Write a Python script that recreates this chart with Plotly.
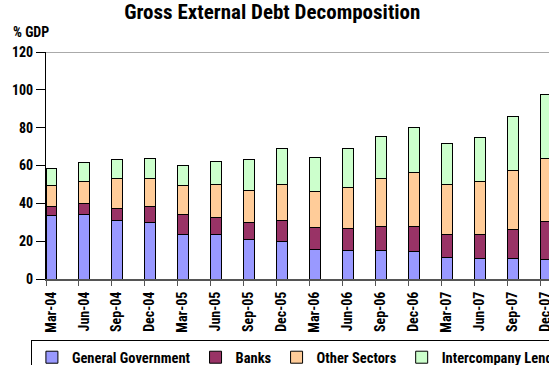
import plotly.graph_objects as go

quarters = ["Mar-04", "Jun-04", "Sep-04", "Dec-04", "Mar-05", "Jun-05", "Sep-05", "Dec-05",
            "Mar-06", "Jun-06", "Sep-06", "Dec-06", "Mar-07", "Jun-07", "Sep-07", "Dec-07"]
general_government = [33.6, 33.9, 30.8, 29.7, 23.6, 23.7, 20.8, 19.9, 15.5, 15.0, 15.0, 14.4, 11.4, 10.9, 10.6, 10.2]
banks = [4.7, 5.9, 6.5, 8.5, 10.5, 9.0, 8.9, 11.1, 11.6, 11.6, 12.6, 13.4, 12.2, 12.7, 15.4, 20.1]
other_sectors = [11.0, 11.6, 15.6, 14.7, 15.2, 17.1, 17.3, 19.0, 19.3, 21.8, 25.5, 28.5, 26.4, 27.9, 31.2, 33.6]
intercompany = [8.9, 10.0, 10.4, 10.6, 10.9, 12.3, 16.3, 18.8, 18.0, 20.7, 22.4, 23.6, 21.8, 23.4, 28.8, 33.4]
y_ticks = [0, 20, 40, 60, 80, 100, 120]

FONT = "Roboto Condensed, Open Sans Condensed, DejaVu Sans Condensed, sans-serif"
BAR_W = 0.32
pos = list(range(len(quarters)))
tick_pos = [p - BAR_W / 2 for p in pos]

series = [
    ("General Government", general_government, "#9999FF"),
    ("Banks", banks, "#993366"),
    ("Other Sectors", other_sectors, "#FFCC99"),
    ("Intercompany Lending", intercompany, "#CCFFCC"),
]

fig = go.Figure()
for name, vals, col in series:
    fig.add_trace(go.Bar(x=pos, y=vals, name=name, width=BAR_W,
                         marker=dict(color=col, line=dict(color="#000000", width=1))))

fig.update_layout(
    width=549, height=365,
    barmode="stack",
    plot_bgcolor="white", paper_bgcolor="white",
    margin=dict(l=46, r=0, t=52, b=86, autoexpand=False),
    font=dict(family=FONT, size=14, color="black", weight="bold"),
    title=dict(text="Gross External Debt Decomposition", x=0.496, xanchor="center",
               y=0.967, yanchor="middle",
               font=dict(family=FONT, size=21, color="black", weight="bold")),
    showlegend=True,
    legend=dict(orientation="h", x=-0.03, xanchor="left", y=-0.27, yanchor="top",
                bordercolor="black", borderwidth=1, bgcolor="white",
                traceorder="normal",
                font=dict(family=FONT, size=14.5, color="black", weight="bold")),
    annotations=[dict(text="% GDP", xref="paper", yref="paper", x=-0.07, y=1.088,
                      xanchor="left", yanchor="middle", showarrow=False,
                      font=dict(family=FONT, size=14, color="black", weight="bold"))],
    shapes=[dict(type="line", xref="paper", yref="y", x0=0, x1=1, y0=120, y1=120,
                 line=dict(color="#AAAAAA", width=2), layer="below")],
)

fig.update_xaxes(range=[-BAR_W / 2, -BAR_W / 2 + 503 / 32.97], tickmode="array",
                 tickvals=tick_pos, ticktext=quarters, tickangle=-90,
                 ticklabelshift=5, ticklabeloverflow="allow",
                 ticks="outside", ticklen=5, tickcolor="#555555", tickwidth=1,
                 showline=True, linecolor="#555555", linewidth=2,
                 showgrid=False, zeroline=False,
                 tickfont=dict(family=FONT, size=14, color="black", weight="bold"))
fig.update_yaxes(range=[0, 120], tickmode="array", tickvals=y_ticks,
                 ticks="outside", ticklen=9, tickcolor="black", tickwidth=1,
                 showline=True, linecolor="black", linewidth=1,
                 showgrid=False, zeroline=False,
                 tickfont=dict(family=FONT, size=14, color="black", weight="bold"))

fig.write_html("out.html", config={"displayModeBar": False},
               post_script="document.body.style.margin='0';")
